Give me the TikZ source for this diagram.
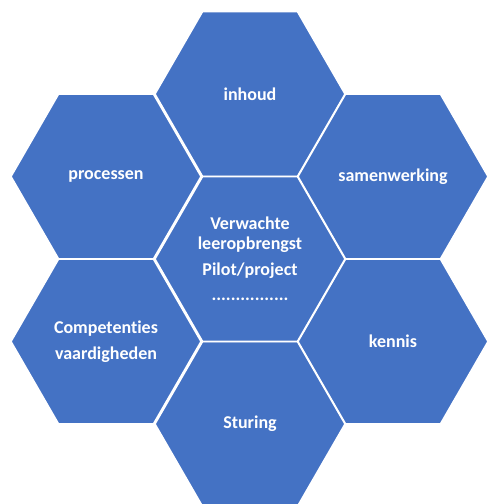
\documentclass[tikz,border=0pt]{standalone}
\usepackage{fontspec}
\setmainfont{Carlito}[Ligatures=NoCommon]
\usetikzlibrary{shapes.geometric}
\definecolor{hexblue}{RGB}{68,114,196}
\begin{document}
\begin{tikzpicture}[x=1pt,y=-1pt,
  hex/.style={regular polygon, regular polygon sides=6, minimum size=190pt,
    inner sep=0pt, outer sep=0pt, fill=hexblue, draw=white, line width=1.5pt,
    text=white, font=\bfseries\fontsize{18}{20}\selectfont, align=center}]
\useasboundingbox (0,0) rectangle (487,504);
\clip (0,0) rectangle (487,504);
\node[hex] (inhoud) at (250,94) {inhoud};
\node[hex] (processen) at (106,176.5) {\raisebox{-2pt}{processen}};
\node[hex] (samenwerking) at (393,176.5) {samenwerking};
\node[hex] (competenties) at (106,341.5) {Competenties\\[6pt]vaardigheden};
\node[hex] (kennis) at (393,341.5) {kennis};
\node[hex] (sturing) at (250,424) {\raisebox{-4pt}{Sturing}};
\node[hex] (center) at (250,259) {Verwachte\\leeropbrengst\\[6pt]Pilot/project\\[5pt]................};
\end{tikzpicture}
\end{document}
